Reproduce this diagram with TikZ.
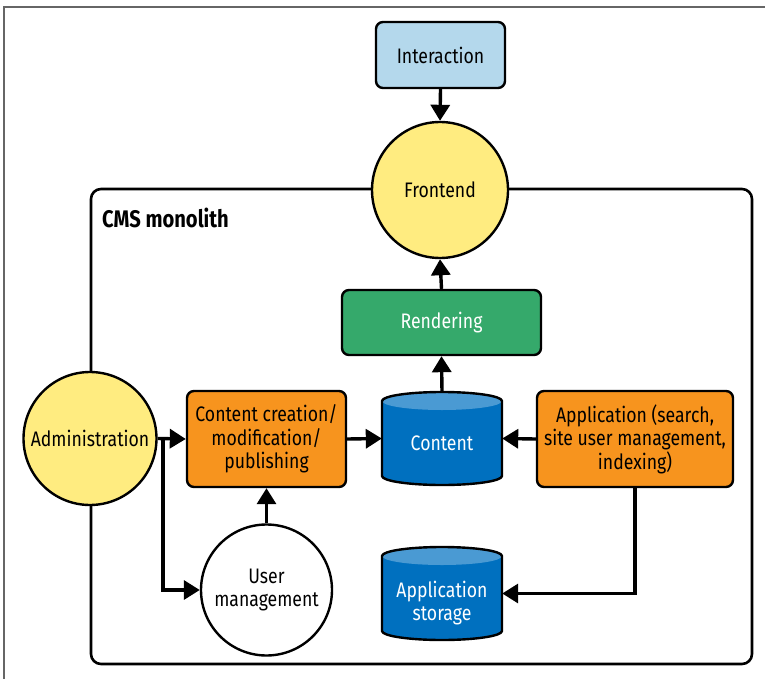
\documentclass[tikz,border=0pt]{standalone}
\usepackage{fontspec}
\setmainfont[FakeStretch=0.84]{Fira Sans}
\usetikzlibrary{arrows.meta}
\definecolor{lblue}{HTML}{B4D8EC}
\definecolor{yel}{HTML}{FFEC80}
\definecolor{grn}{HTML}{35A96B}
\definecolor{org}{HTML}{F7941E}
\definecolor{dblue}{HTML}{0070BF}
\definecolor{cblue}{HTML}{4A9AD3}
\tikzset{
  box/.style={draw=black, line width=2.4pt, rounded corners=7pt, align=center, font=\fontsize{21}{23.5}\selectfont, inner sep=0pt},
  circ/.style={circle, draw=black, line width=2.4pt, align=center, font=\fontsize{21}{23.5}\selectfont, inner sep=0pt},
  cylnode/.style={inner sep=0pt},
  conn/.style={line width=3.4pt, -{Triangle[length=16pt,width=19pt]}},
}
\newcommand{\cylinderat}[3]{% #1 center x, #2 top y, #3 bottom y
  \fill[dblue] (#1-60,#2+9) -- (#1-60,#3-9) arc[start angle=180,end angle=0,x radius=60,y radius=9] -- (#1+60,#2+9) arc[start angle=0,end angle=-180,x radius=60,y radius=9] -- cycle;
  \fill[cblue] (#1,#2+9) ellipse[x radius=60,y radius=9];
  \draw[line width=2.4pt,line join=round] (#1-60,#2+9) -- (#1-60,#3-9) arc[start angle=180,end angle=0,x radius=60,y radius=9] -- (#1+60,#2+9) arc[start angle=0,end angle=-180,x radius=60,y radius=9] -- cycle;
}
\begin{document}
\begin{tikzpicture}[x=1pt,y=-1pt]
\useasboundingbox (0,0) rectangle (765,679);
\fill[white] (0,0) rectangle (765,679);
\draw[gray!80!black, line width=1.2pt] (4,679) -- (4,7) -- (765,7);
% monolith frame
\node[draw=black, line width=2.6pt, rounded corners=10pt, minimum width=661pt, minimum height=475pt, inner sep=0pt] (mono) at (421.5,426.5) {};
\node[anchor=west, font=\fontsize{24}{27}\selectfont\bfseries, inner sep=0pt] (monolabel) at (102,218) {CMS monolith};
% nodes
\node[box, fill=lblue, minimum width=129pt, minimum height=66pt] (inter) at (440.5,55) {Interaction};
\node[circ, fill=yel, minimum size=136pt] (front) at (440,190) {Frontend};
\node[box, fill=grn, text=white, minimum width=199pt, minimum height=65pt] (rend) at (441.5,322.5) {Rendering};
\node[box, fill=org, minimum width=159pt, minimum height=96pt] (create) at (266.5,439) {Content creation/\\modification/\\publishing};
\node[box, fill=org, minimum width=196pt, minimum height=96pt] (app) at (635,439) {Application (search,\\site user management,\\indexing)};
\node[circ, fill=yel, minimum size=133pt] (admin) at (90,438.5) {Administration};
\node[circ, fill=white, minimum size=131pt] (user) at (266.5,590) {User\\management};
% cylinders
\cylinderat{442}{392}{485}
\cylinderat{442}{547}{640}
\node[cylnode, minimum width=120pt, minimum height=93pt] (content) at (442,438.5) {};
\node[cylnode, minimum width=120pt, minimum height=93pt] (appstore) at (442,593.5) {};
\node[text=white, align=center, font=\fontsize{21}{23.5}\selectfont, inner sep=0pt] (contentlbl) at (442,443) {Content};
\node[text=white, align=center, font=\fontsize{21}{23.5}\selectfont, inner sep=0pt] (appstorelbl) at (442,603) {Application\\storage};
% connectors
\draw[conn] (inter.south) -- (front.north);
\draw[conn] (rend.north) -- (front.south);
\draw[conn] (content.north) -- (rend.south);
\draw[conn] (create.east) -- (content.west);
\draw[conn] (app.west) -- (content.east);
\draw[conn] (admin.east) -- (create.west);
\coordinate (br) at (163,438.5);
\draw[conn, line join=miter] (admin.east) -- (br) |- (user.west);
\draw[conn] (user.north) -- (create.south);
\draw[conn, line join=miter] (app.south) |- (appstore.east);
\end{tikzpicture}
\end{document}
